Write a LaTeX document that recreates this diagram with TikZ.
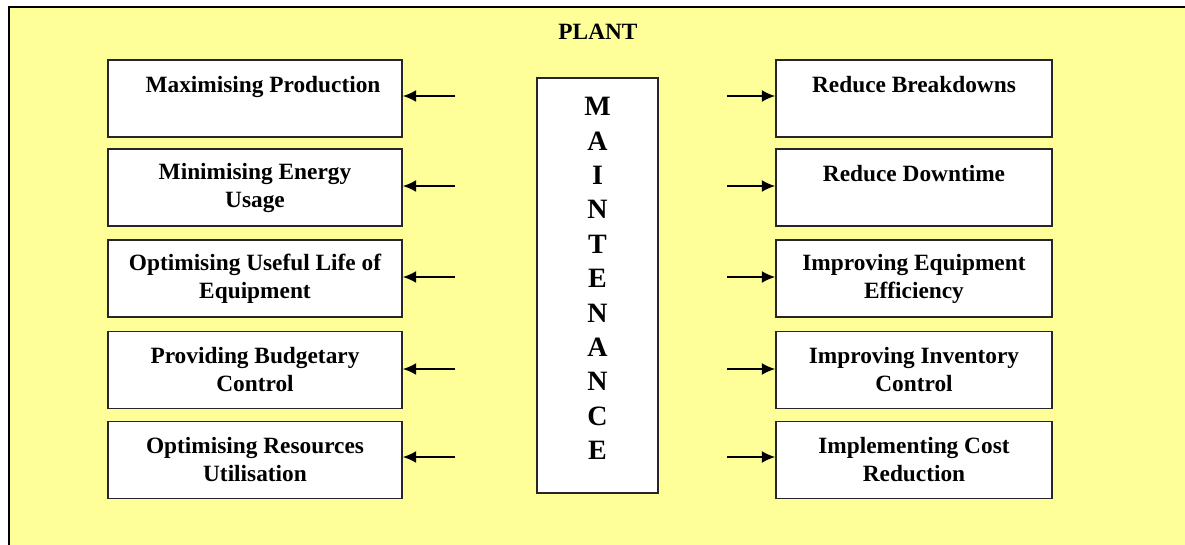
\documentclass[tikz,border=0pt]{standalone}
\usepackage{fontspec}
\setmainfont{Liberation Serif}
\usetikzlibrary{arrows.meta}
\definecolor{plantyellow}{HTML}{FFFF99}
\begin{document}
\begin{tikzpicture}[x=0.75pt,y=-0.75pt,
  txt/.style={font=\fontsize{17.5}{21}\selectfont\bfseries, align=center, text=black},
  lbox/.style={txt, draw=black!85, line width=1.3pt, fill=white, minimum width=220.5pt, minimum height=57.75pt, inner sep=0pt},
  rbox/.style={lbox, minimum width=207pt},
  cbox/.style={draw=black!85, line width=1.3pt, fill=white, minimum width=90.75pt, minimum height=311.25pt},
  mtxt/.style={font=\fontsize{21}{25.8}\selectfont\bfseries, align=center, inner sep=0pt, anchor=north},
  arr/.style={line width=1.2pt, -{Latex[length=10pt,width=9pt]}}
]
\useasboundingbox (0,0) rectangle (1185,545);
\clip (0,0) rectangle (1185,545);
\fill[white] (0,0) rectangle (1185,545);
\draw[line width=2.2pt, fill=plantyellow] (9,7) rectangle (1200,560);
\node[txt] (plant) at (598,32) {PLANT};

% centre box
\node[cbox] (maint) at (597.5,285.5) {};
\node[mtxt] (mtext) at (597.5,97) {M\\A\\I\\N\\T\\E\\N\\A\\N\\C\\E};

% left boxes
\node[lbox] (L1) at (255,98.5) {\hspace*{12pt}Maximising Production\\\mbox{}};
\node[lbox] (L2) at (255,187.5) {Minimising Energy\\Usage};
\node[lbox] (L3) at (255,278.5) {Optimising Useful Life of\\Equipment};
\node[lbox] (L4) at (255,370) {Providing Budgetary\\Control};
\node[lbox] (L5) at (255,460) {Optimising Resources\\Utilisation};

% right boxes
\node[rbox] (R1) at (914,98.5) {Reduce Breakdowns\\\mbox{}};
\node[rbox] (R2) at (914,187.5) {Reduce Downtime\\\mbox{}};
\node[rbox] (R3) at (914,278.5) {Improving Equipment\\Efficiency};
\node[rbox] (R4) at (914,370) {Improving Inventory\\Control};
\node[rbox] (R5) at (914,460) {Implementing Cost\\Reduction};

% arrow tails
\coordinate (la1) at (455,96);
\coordinate (la2) at (455,186);
\coordinate (la3) at (455,277);
\coordinate (la4) at (455,369);
\coordinate (la5) at (455,457);
\coordinate (ra1) at (727,96);
\coordinate (ra2) at (727,186);
\coordinate (ra3) at (727,277);
\coordinate (ra4) at (727,369);
\coordinate (ra5) at (727,457);

\draw[arr] (la1) -- (la1 -| L1.east);
\draw[arr] (la2) -- (la2 -| L2.east);
\draw[arr] (la3) -- (la3 -| L3.east);
\draw[arr] (la4) -- (la4 -| L4.east);
\draw[arr] (la5) -- (la5 -| L5.east);
\draw[arr] (ra1) -- (ra1 -| R1.west);
\draw[arr] (ra2) -- (ra2 -| R2.west);
\draw[arr] (ra3) -- (ra3 -| R3.west);
\draw[arr] (ra4) -- (ra4 -| R4.west);
\draw[arr] (ra5) -- (ra5 -| R5.west);
\end{tikzpicture}
\end{document}
